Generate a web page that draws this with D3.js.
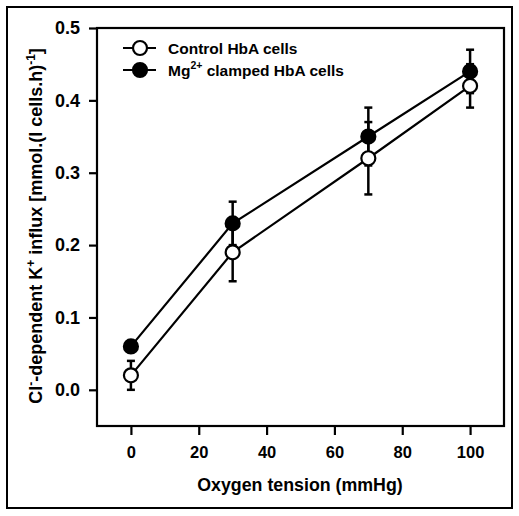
<!DOCTYPE html>
<html><head><meta charset="utf-8">
<script src="https://cdn.jsdelivr.net/npm/d3@7"></script>
<style>body{margin:0;background:#fff}svg{display:block;font-family:Arial,"Liberation Sans",sans-serif;font-weight:bold}</style>
</head><body>
<svg id="c" width="519" height="516"></svg>
<script>
const oxygen = [0, 30, 70, 100];
const controlMean = [0.02, 0.19, 0.32, 0.42];
const controlErr = [0.02, 0.04, 0.05, 0.03];
const mgMean = [0.06, 0.23, 0.35, 0.44];
const mgErr = [0.005, 0.03, 0.04, 0.03];
const xTicks = [0, 20, 40, 60, 80, 100];
const yTicks = [0.0, 0.1, 0.2, 0.3, 0.4, 0.5];
const seriesNames = ["Control HbA cells", "Mg clamped HbA cells"];

const svg = d3.select("#c");
svg.append("rect").attr("x", 7).attr("y", 7).attr("width", 505).attr("height", 501)
  .attr("fill", "none").attr("stroke", "#000").attr("stroke-width", 2);

const x = d3.scaleLinear().domain([-10, 110]).range([97, 504]);
const y = d3.scaleLinear().domain([-0.05, 0.5]).range([426, 28]);

// plot box
svg.append("rect").attr("x", x(-10)).attr("y", y(0.5)).attr("width", x(110) - x(-10)).attr("height", y(-0.05) - y(0.5))
  .attr("fill", "none").attr("stroke", "#000").attr("stroke-width", 2.2);

const yAxis = svg.append("g").attr("transform", `translate(${x(-10)},0)`)
  .call(d3.axisLeft(y).tickValues(yTicks).tickFormat(d3.format(".1f")).tickSize(8).tickPadding(9));
yAxis.select(".domain").remove();
yAxis.selectAll("line").attr("stroke-width", 2.2);
yAxis.selectAll("text").attr("font-size", 18).attr("font-family", "Arial, 'Liberation Sans', sans-serif").attr("font-weight", "bold").attr("fill", "#000");

const xAxis = svg.append("g").attr("transform", `translate(0,${y(-0.05)})`)
  .call(d3.axisBottom(x).tickValues(xTicks).tickSize(9).tickPadding(11));
xAxis.select(".domain").remove();
xAxis.selectAll("line").attr("stroke-width", 2.2);
xAxis.selectAll("text").attr("font-size", 16.5).attr("font-family", "Arial, 'Liberation Sans', sans-serif").attr("font-weight", "bold").attr("fill", "#000");

svg.append("text").attr("x", 300).attr("y", 491).attr("text-anchor", "middle").attr("font-size", 17.8).text("Oxygen tension (mmHg)");

const yt = svg.append("text").attr("transform", "translate(42,226) rotate(-90)").attr("text-anchor", "middle").attr("font-size", 18);
yt.append("tspan").text("Cl");
yt.append("tspan").attr("font-size", 12).attr("dy", -7).text("-");
yt.append("tspan").attr("dy", 7).text("-dependent K");
yt.append("tspan").attr("font-size", 12).attr("dy", -7).text("+");
yt.append("tspan").attr("dy", 7).text(" influx [mmol.(l cells.h)");
yt.append("tspan").attr("font-size", 12).attr("dy", -7).text("-1");
yt.append("tspan").attr("dy", 7).text("]");

const series = [
  {mean: controlMean, err: controlErr, fill: "#fff"},
  {mean: mgMean, err: mgErr, fill: "#000"}
];

// error bars
series.forEach(s => {
  const g = svg.append("g").attr("stroke", "#000").attr("stroke-width", 2.5);
  oxygen.forEach((o, i) => {
    const lo = s.mean[i] - s.err[i], hi = s.mean[i] + s.err[i];
    g.append("line").attr("x1", x(o)).attr("x2", x(o)).attr("y1", y(lo)).attr("y2", y(hi));
    g.append("line").attr("x1", x(o) - 4).attr("x2", x(o) + 4).attr("y1", y(lo)).attr("y2", y(lo));
    g.append("line").attr("x1", x(o) - 4).attr("x2", x(o) + 4).attr("y1", y(hi)).attr("y2", y(hi));
  });
});

const line = d3.line().x((d, i) => x(oxygen[i])).y(d => y(d));
series.forEach(s => {
  svg.append("path").attr("d", line(s.mean)).attr("fill", "none").attr("stroke", "#000").attr("stroke-width", 2.2);
});
series.forEach(s => {
  svg.append("g").selectAll("circle").data(s.mean).join("circle")
    .attr("cx", (d, i) => x(oxygen[i])).attr("cy", d => y(d)).attr("r", 7)
    .attr("fill", s.fill).attr("stroke", "#000").attr("stroke-width", 2.2);
});

// legend
const leg = [{y: 48, fill: "#fff"}, {y: 70, fill: "#000"}];
leg.forEach((l, i) => {
  svg.append("line").attr("x1", 123).attr("x2", 156).attr("y1", l.y).attr("y2", l.y).attr("stroke", "#000").attr("stroke-width", 2.2);
  svg.append("circle").attr("cx", 140).attr("cy", l.y).attr("r", 7).attr("fill", l.fill).attr("stroke", "#000").attr("stroke-width", 2.2);
});
svg.append("text").attr("x", 168).attr("y", 54).attr("font-size", 15.5).text(seriesNames[0]);
const t2 = svg.append("text").attr("x", 168).attr("y", 76).attr("font-size", 15.5);
t2.append("tspan").text("Mg");
t2.append("tspan").attr("font-size", 10.5).attr("dy", -7).text("2+");
t2.append("tspan").attr("dy", 7).text(seriesNames[1].replace("Mg", ""));
</script>
</body></html>
